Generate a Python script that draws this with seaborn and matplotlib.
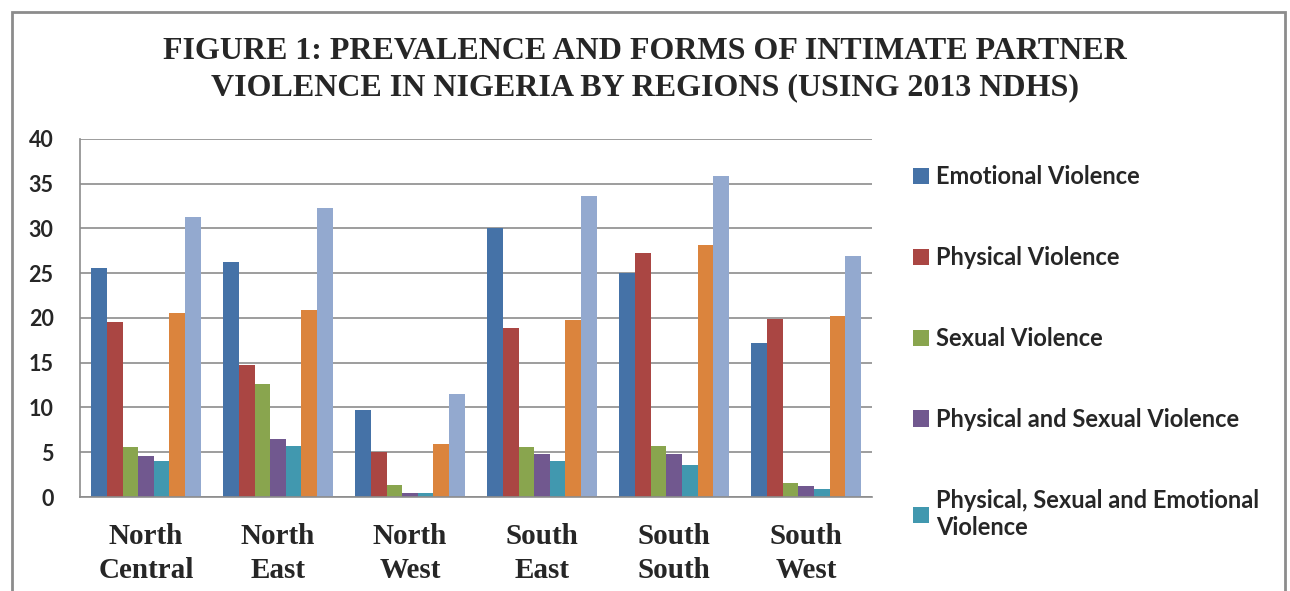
import pandas as pd
import seaborn as sns
import matplotlib.pyplot as plt
from matplotlib.patches import Patch, Rectangle

# categories and series
regions = ['North\nCentral', 'North\nEast', 'North\nWest', 'South\nEast', 'South\nSouth', 'South\nWest']
series = ['Emotional Violence', 'Physical Violence', 'Sexual Violence',
          'Physical and Sexual Violence', 'Physical, Sexual and Emotional\nViolence',
          'Series 6', 'Series 7']

emotional = [25.6, 26.3, 9.7, 30.0, 25.0, 17.2]
physical = [19.6, 14.7, 5.0, 18.9, 27.2, 19.9]
sexual = [5.6, 12.6, 1.3, 5.6, 5.7, 1.6]
phys_sex = [4.6, 6.5, 0.45, 4.8, 4.8, 1.2]
phys_sex_emo = [4.0, 5.7, 0.45, 4.0, 3.6, 0.9]
series6 = [20.6, 20.9, 5.9, 19.8, 28.1, 20.2]
series7 = [31.3, 32.3, 11.5, 33.6, 35.8, 26.9]

colors = ['#4572A7', '#AA4643', '#89A54E', '#71588F', '#4198AF', '#DB843D', '#93A9CF']

values = [emotional, physical, sexual, phys_sex, phys_sex_emo, series6, series7]
rows = []
for name, vals in zip(series, values):
    for reg, v in zip(regions, vals):
        rows.append({'Region': reg, 'Series': name, 'Value': v})
df = pd.DataFrame(rows)

sns.set_theme(style='white')
fig = plt.figure(figsize=(12.9, 5.91), dpi=100)
ax = fig.add_axes([0.062, 0.159, 0.614, 0.606])

sns.barplot(data=df, x='Region', y='Value', hue='Series', palette=colors,
            width=0.83, gap=0, saturation=1, edgecolor='none', ax=ax, legend=False)

ax.set_ylim(0, 40)
ax.set_yticks(range(0, 41, 5))
ax.set_xlim(-0.5, 5.5)
ax.yaxis.grid(True, color='#8c8c8c', linewidth=1.2)
ax.set_axisbelow(True)
ax.set_xlabel('')
ax.set_ylabel('')
for side in ['top', 'right']:
    ax.spines[side].set_visible(False)
for side in ['left', 'bottom']:
    ax.spines[side].set_color('#8c8c8c')
    ax.spines[side].set_linewidth(1.2)
ax.tick_params(axis='both', length=0)
ax.tick_params(axis='y', pad=19)
ax.tick_params(axis='x', pad=19)
for lab in ax.get_yticklabels():
    lab.set_fontfamily('Lato')
    lab.set_fontweight('bold')
    lab.set_fontsize(15.5)
for lab in ax.get_xticklabels():
    lab.set_fontfamily('Liberation Serif')
    lab.set_fontweight('bold')
    lab.set_fontsize(21)
    lab.set_linespacing(1.3)

handles = [Patch(facecolor=c, edgecolor='none') for c in colors[:5]]
leg = fig.legend(handles, series[:5], loc='upper left', bbox_to_anchor=(0.691, 0.756),
                 frameon=False, handlelength=0.7, handleheight=0.7, handletextpad=0.3,
                 labelspacing=2.45, prop={'family': 'Lato', 'weight': 'bold', 'size': 17})

fig.text(0.5, 0.882, 'FIGURE 1: PREVALENCE AND FORMS OF INTIMATE PARTNER\n'
         'VIOLENCE IN NIGERIA BY REGIONS (USING 2013 NDHS)',
         ha='center', va='center', family='Liberation Serif', weight='bold',
         fontsize=23, linespacing=1.3)

# chart area border
fig.patches.append(Rectangle((0.009, -0.05), 0.987, 1.03, transform=fig.transFigure,
                             fill=False, edgecolor='#8c8c8c', linewidth=2))

fig.savefig('out.png', dpi=100)
